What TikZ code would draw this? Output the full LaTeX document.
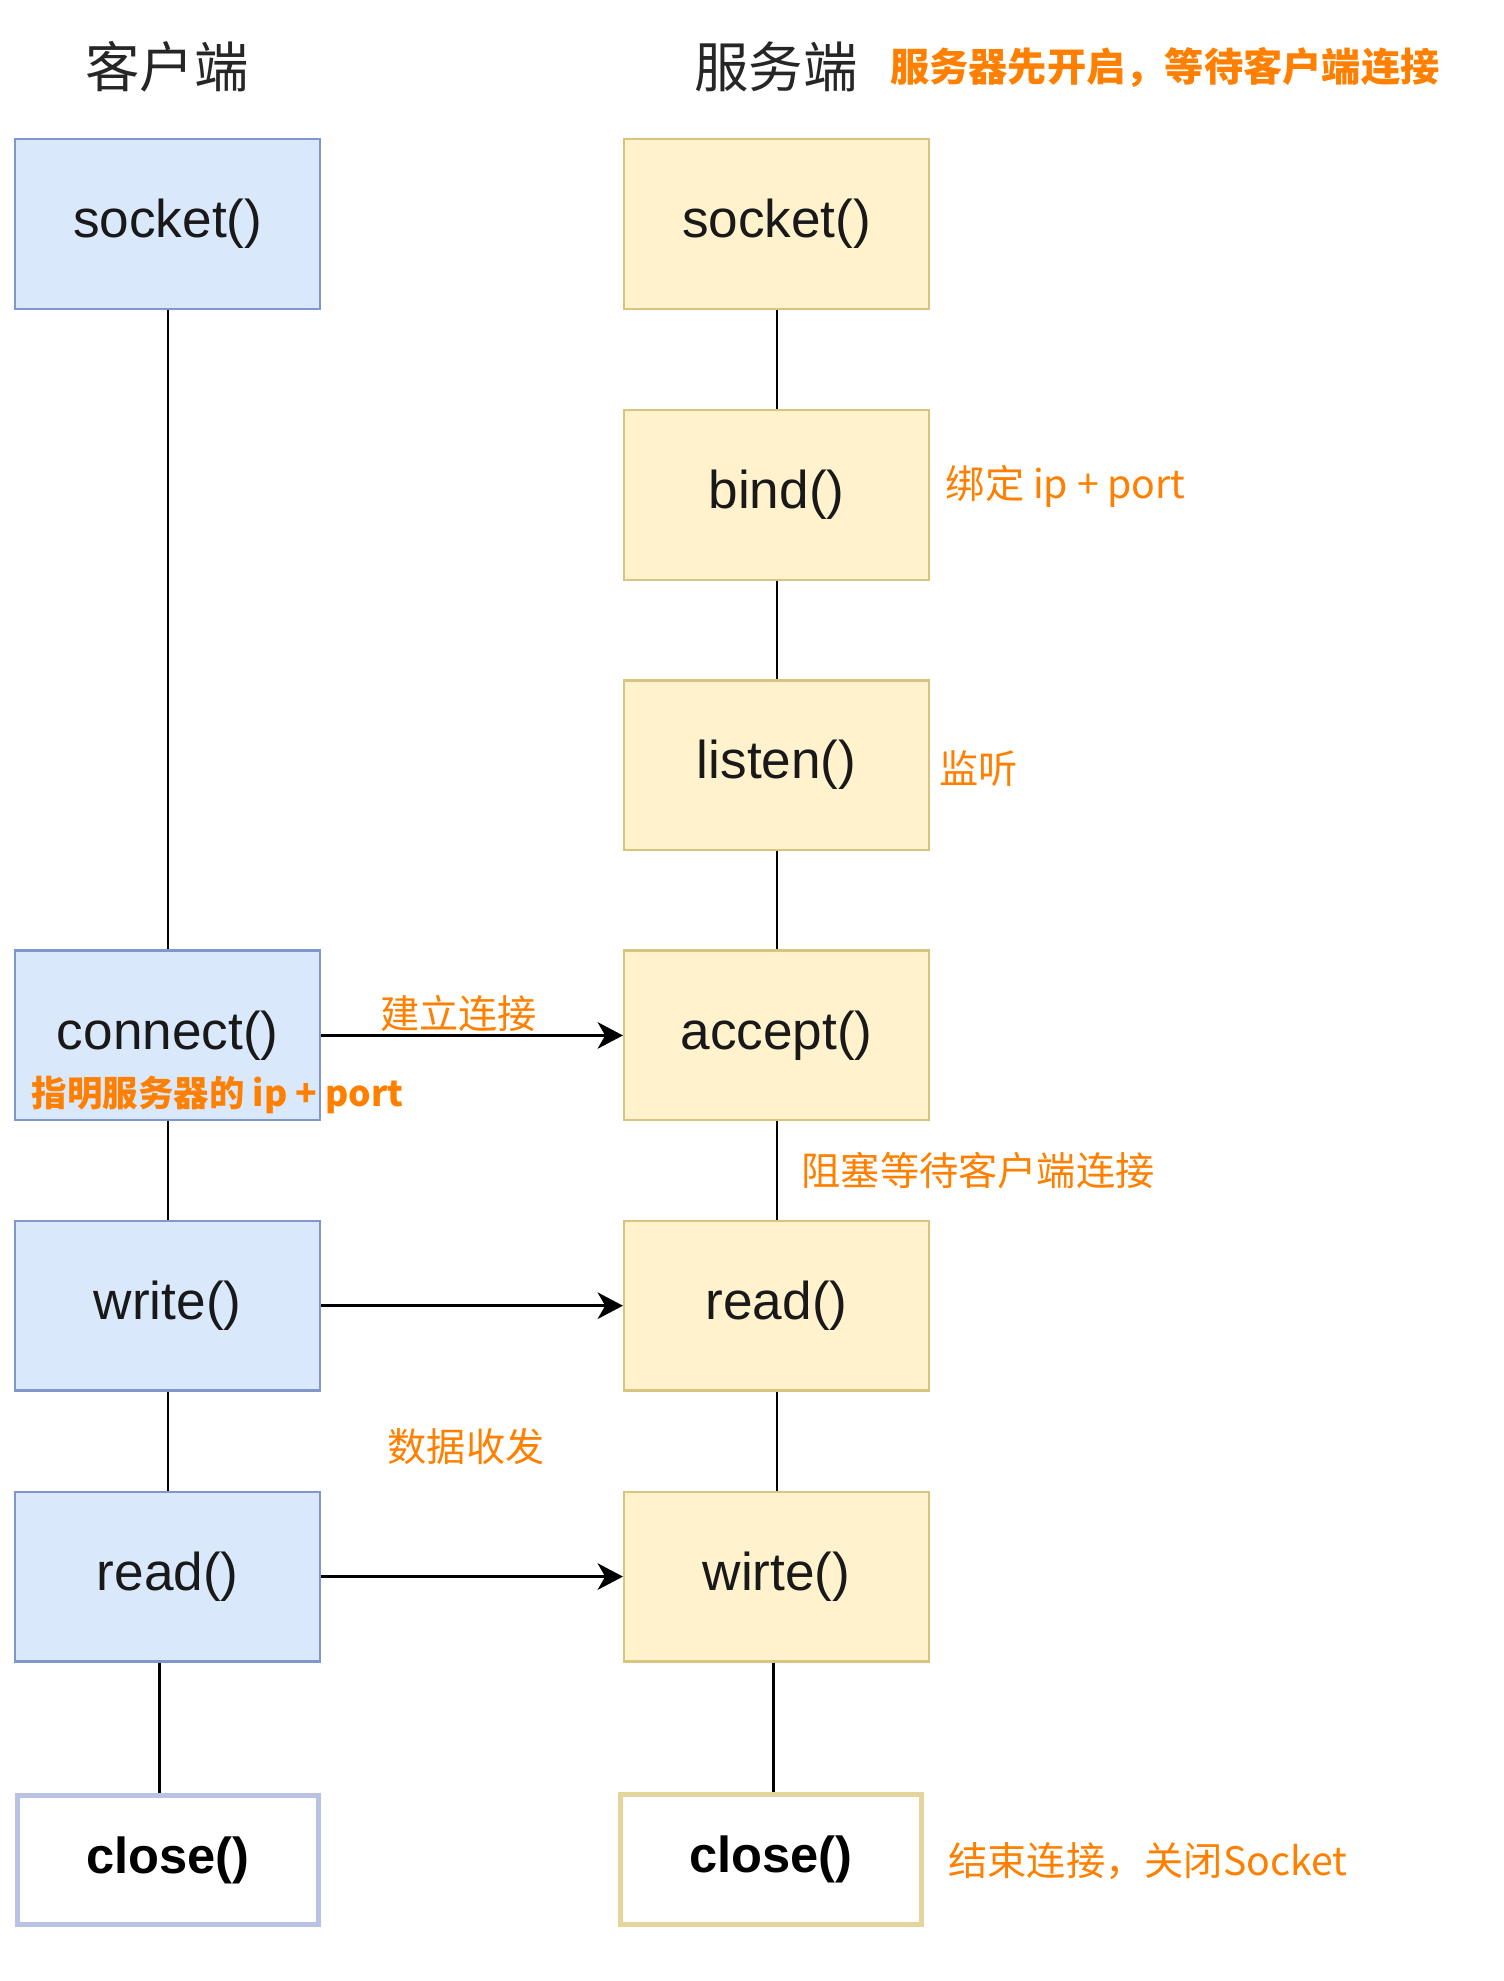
\documentclass[tikz,border=0pt]{standalone}
\usepackage{fontspec}
\setmainfont{Liberation Sans}
\newfontfamily\cjk{Noto Sans CJK SC}
\usetikzlibrary{arrows.meta}
\definecolor{bfill}{HTML}{DAE8FC}
\definecolor{bline}{HTML}{8197CB}
\definecolor{yfill}{HTML}{FFF2CC}
\definecolor{yline}{HTML}{D9C47F}
\definecolor{bclose}{HTML}{B9C2E2}
\definecolor{yclose}{HTML}{E5D49C}
\definecolor{orng}{HTML}{FF8000}
\definecolor{ttl}{HTML}{262626}
\tikzset{
  cbox/.style={draw=bline, fill=bfill, line width=1.8pt, minimum width=241pt, minimum height=134pt, inner sep=0pt, font=\fontsize{42}{48}\selectfont, text=black!90},
  sbox/.style={cbox, draw=yline, fill=yfill},
  cclosebox/.style={draw=bclose, fill=white, line width=4pt, minimum width=238pt, minimum height=102pt, inner sep=0pt, font=\fontsize{40}{46}\selectfont\bfseries},
  sclosebox/.style={cclosebox, draw=yclose},
  lbl/.style={text=orng, inner sep=0pt, anchor=west, font=\cjk\fontsize{31}{36}\selectfont},
  blbl/.style={lbl, font=\cjk\bfseries\fontsize{31}{36}\selectfont},
  ttlnode/.style={text=ttl, inner sep=0pt, font=\cjk\fontsize{43}{50}\selectfont},
  link/.style={line width=1.6pt, black},
  flow/.style={line width=2pt, black, -{Stealth[length=20pt, width=21pt, inset=6pt]}}
}
\begin{document}
\begin{tikzpicture}[x=1pt, y=-1pt]
\useasboundingbox (0,0) rectangle (1188,1565);
% titles
\node[ttlnode] (tc) at (132,53) {客户端};
\node[ttlnode] (ts) at (613,53) {服务端};
\node[blbl] (th) at (703,53) {服务器先开启，等待客户端连接};
% client boxes
\node[cbox] (csock) at (132.5,177) {socket()};
\node[cbox] (cconn) at (132.5,818) {connect()};
\node[cbox] (cwrite) at (132.5,1031.5) {write()};
\node[cbox] (cread) at (132.5,1245.5) {read()};
\node[cclosebox] (cclose) at (132.5,1469.5) {close()};
% server boxes
\node[sbox] (ssock) at (613.5,177) {socket()};
\node[sbox] (sbind) at (613.5,391) {bind()};
\node[sbox] (slist) at (613.5,604.5) {listen()};
\node[sbox] (sacc) at (613.5,818) {accept()};
\node[sbox] (sread) at (613.5,1031.5) {read()};
\node[sbox] (swrite) at (613.5,1245.5) {wirte()};
\node[sclosebox] (sclose) at (609,1469) {close()};
% vertical links
\draw[link] (csock.south) -- (cconn.north);
\draw[link] (cconn.south) -- (cwrite.north);
\draw[link] (cwrite.south) -- (cread.north);
\draw[link, line width=2.4pt] ([xshift=-6.5pt]cread.south) -- ([xshift=-6.5pt]cclose.north);
\draw[link] (ssock.south) -- (sbind.north);
\draw[link] (sbind.south) -- (slist.north);
\draw[link] (slist.south) -- (sacc.north);
\draw[link] (sacc.south) -- (sread.north);
\draw[link] (sread.south) -- (swrite.north);
\draw[link, line width=2.4pt] ([xshift=-2.5pt]swrite.south) -- ([xshift=2pt]sclose.north);
% arrows
\draw[flow] (cconn.east) -- (sacc.west);
\draw[flow] (cwrite.east) -- (sread.west);
\draw[flow] (cread.east) -- (swrite.west);
% labels
\node[lbl] (l1) at (300,801) {建立连接};
\node[blbl, font=\cjk\bfseries\fontsize{28}{32}\selectfont] (l2) at (25,865) {指明服务器的 ip + port};
\node[lbl] (l3) at (747,384) {绑定 ip + port};
\node[lbl] (l4) at (742,607) {监听};
\node[lbl] (l5) at (633,925) {阻塞等待客户端连接};
\node[lbl] (l6) at (306,1143) {数据收发};
\node[lbl] (l7) at (749,1470) {结束连接，关闭Socket};
\end{tikzpicture}
\end{document}
